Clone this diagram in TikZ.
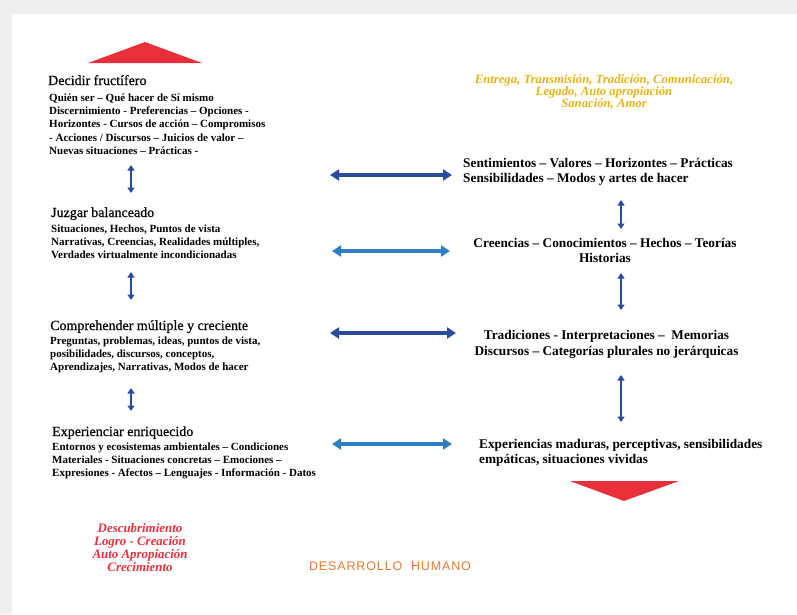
\documentclass[tikz,border=0pt]{standalone}
\usepackage{fontspec}
\setmainfont{Liberation Serif}
\newfontfamily\headf[FakeBold=0.6]{Liberation Serif}
\newfontfamily\dsans[LetterSpace=7]{Liberation Sans}
\usetikzlibrary{arrows.meta}
\definecolor{dblue}{HTML}{2B4C9E}
\definecolor{lblue}{HTML}{2F7EC2}
\definecolor{vred}{HTML}{E8303A}
\definecolor{gold}{HTML}{E6B416}
\definecolor{orng}{HTML}{E8782E}
\definecolor{pagegray}{HTML}{EFEFEF}
\begin{document}
\begin{tikzpicture}[x=1pt,y=-1pt,
  lhead/.style={anchor=base west, inner sep=0, font=\headf\fontsize{14}{16}\selectfont},
  lbody/.style={anchor=north west, inner sep=0, align=left, font=\fontsize{11}{#1}\selectfont\bfseries},
  rtext/.style={inner sep=0, font=\fontsize{13.3}{#1}\selectfont\bfseries},
  harrow/.style={line width=4pt, {Triangle[width=11pt,length=9pt]}-{Triangle[width=11pt,length=9pt]}},
  varrow/.style={dblue, line width=2.8pt, {Triangle[width=7pt,length=5.5pt]}-{Triangle[width=7pt,length=5.5pt]}},
]
\useasboundingbox (0,0) rectangle (797,614);
\fill[pagegray] (0,0) rectangle (797,614);
\fill[white] (12,14) rectangle (797,614);

% red triangles
\fill[vred] (88,63) -- (145,42) -- (202,63) -- cycle;
\fill[vred] (570,481) -- (679,481) -- (624,501) -- cycle;

% left column
\node[lhead] (h1) at (48,85) {Decidir fructífero};
\node[lbody=13.3] (b1) at (49,93.3) {Quién ser – Qué hacer de Sí mismo\\Discernimiento - Preferencias – Opciones -\\Horizontes - Cursos de acción – Compromisos\\- Acciones / Discursos – Juicios de valor –\\Nuevas situaciones – Prácticas -};

\node[lhead] (h2) at (51,217) {Juzgar balanceado};
\node[lbody=13] (b2) at (51,224.3) {Situaciones, Hechos, Puntos de vista\\Narrativas, Creencias, Realidades múltiples,\\Verdades virtualmente incondicionadas};

\node[lhead] (h3) at (50,330) {Comprehender múltiple y creciente};
\node[lbody=13] (b3) at (50,336.3) {Preguntas, problemas, ideas, puntos de vista,\\posibilidades, discursos, conceptos,\\Aprendizajes, Narrativas, Modos de hacer};

\node[lhead] (h4) at (52,436) {Experienciar enriquecido};
\node[lbody=13] (b4) at (52,442.3) {Entornos y ecosistemas ambientales – Condiciones\\Materiales - Situaciones concretas – Emociones –\\Expresiones - Afectos – Lenguajes - Información - Datos};

% right column
\node[inner sep=0, anchor=north, align=center, text=gold, font=\fontsize{12.7}{12}\selectfont\bfseries\itshape] (y1) at (604,74.1) {Entrega, Transmisión, Tradición, Comunicación,\\Legado, Auto apropiación\\Sanación, Amor};

\node[rtext=15, anchor=north west, align=left] (r1) at (463,157.7) {Sentimientos – Valores – Horizontes – Prácticas\\Sensibilidades – Modos y artes de hacer};
\node[rtext=15, anchor=north, align=center] (r2) at (605,237.7) {Creencias – Conocimientos – Hechos – Teorías\\Historias};
\node[rtext=16, anchor=north, align=center] (r3) at (606.5,329.7) {Tradiciones - Interpretaciones –\ \ Memorias\\Discursos – Categorías plurales no jerárquicas};
\node[rtext=15, anchor=north west, align=left] (r4) at (479,438.7) {Experiencias maduras, perceptivas, sensibilidades\\empáticas, situaciones vividas};

% bottom
\node[inner sep=0, anchor=north, align=center, text=vred, font=\fontsize{12.9}{13}\selectfont\bfseries\itshape] (red) at (140,523) {Descubrimiento\\Logro - Creación\\Auto Apropiación\\Crecimiento};
\node[inner sep=0, anchor=base, text=orng, font=\dsans\fontsize{12.5}{14}\selectfont] (dh) at (390,570) {DESARROLLO\ \ HUMANO};

% arrow end points
\coordinate (la1) at (131,165); \coordinate (lb1) at (131,193);
\coordinate (la2) at (131,272); \coordinate (lb2) at (131,300);
\coordinate (la3) at (131,388); \coordinate (lb3) at (131,411);
\coordinate (ra1) at (621,200); \coordinate (rb1) at (621,229);
\coordinate (ra2) at (621,273); \coordinate (rb2) at (621,310);
\coordinate (ra3) at (621,375); \coordinate (rb3) at (621,422);
\coordinate (ha1) at (330,175); \coordinate (hb1) at (452,175);
\coordinate (ha2) at (332,251); \coordinate (hb2) at (450,251);
\coordinate (ha3) at (330,333); \coordinate (hb3) at (456,333);
\coordinate (ha4) at (332,444); \coordinate (hb4) at (452,444);

\draw[varrow] (la1) -- (lb1);
\draw[varrow] (la2) -- (lb2);
\draw[varrow] (la3) -- (lb3);
\draw[varrow] (ra1) -- (rb1);
\draw[varrow] (ra2) -- (rb2);
\draw[varrow] (ra3) -- (rb3);
\draw[harrow, dblue] (ha1) -- (hb1);
\draw[harrow, lblue] (ha2) -- (hb2);
\draw[harrow, dblue] (ha3) -- (hb3);
\draw[harrow, lblue] (ha4) -- (hb4);
\end{tikzpicture}
\end{document}
